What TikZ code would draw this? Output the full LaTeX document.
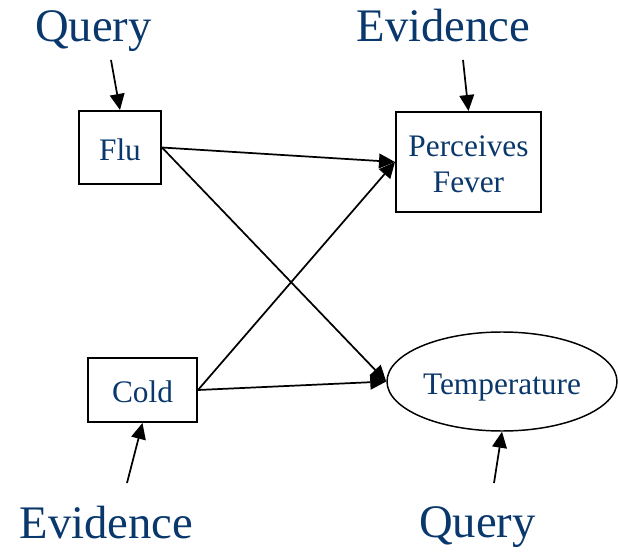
\documentclass[tikz,border=0pt]{standalone}
\usepackage{fontspec}
\setmainfont{Liberation Serif}
\usetikzlibrary{shapes.geometric,arrows.meta}
\definecolor{navy}{RGB}{10,56,108}

\begin{document}
\begin{tikzpicture}[x=0.75pt,y=-0.75pt,
	boxnode/.style={draw,line width=1.5pt,inner sep=0,text height=19.3pt,text depth=0pt,text=navy,font=\fontsize{23.5}{27}\selectfont},
	tagtext/.style={anchor=base,inner sep=0,text=navy,font=\fontsize{35}{40}\selectfont},
	link/.style={line width=1.3pt,-{Triangle[length=12pt,width=11pt]}}]
	\useasboundingbox (0,0) rectangle (618,552);
	\node[boxnode,minimum width=61.5pt,minimum height=54.75pt] (flu) at (120,147.5) {Flu};
	\node[boxnode,minimum width=108.75pt,minimum height=75pt,align=center,text height=46.3pt] (fever) at (468.5,162) {Perceives\\Fever};
	\node[boxnode,minimum width=81.75pt,minimum height=48pt] (cold) at (142.5,390) {Cold};
	\node[boxnode,ellipse,line width=1.1pt,minimum width=172.5pt,minimum height=74.25pt] (temp) at (502,381.5) {Temperature};
	\node[tagtext] (q1) at (93.5,42) {Query};
	\node[tagtext] (e1) at (443.5,42) {Evidence};
	\node[tagtext] (e2) at (106.5,538) {Evidence};
	\node[tagtext] (q2) at (477.5,537) {Query};
	\coordinate (q1a) at (111,60);
	\coordinate (e1a) at (463,60);
	\coordinate (e2a) at (127,483);
	\coordinate (q2a) at (494,483);
	\draw[link] (q1a) -- (flu.north);
	\draw[link] (e1a) -- (fever.north);
	\draw[link] (e2a) -- (cold.south);
	\draw[link] (q2a) -- (temp.south);
	\draw[link] (flu.east) -- (fever.west);
	\draw[link] (flu.east) -- (temp.west);
	\draw[link] (cold.east) -- (fever.west);
	\draw[link] (cold.east) -- (temp.west);
\end{tikzpicture}
\end{document}
